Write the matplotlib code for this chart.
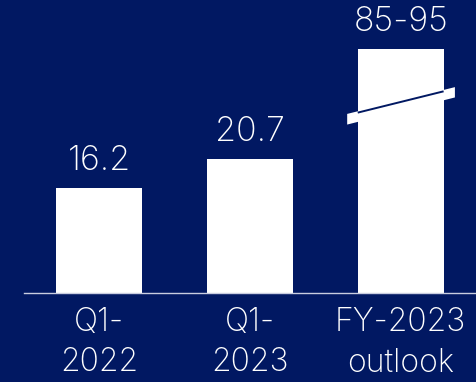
import matplotlib
matplotlib.use("Agg")
import matplotlib.pyplot as plt
from matplotlib.patches import Polygon
import numpy as np

categories = ["Q1-\n2022", "Q1-\n2023", "FY-2023\noutlook"]
values = [16.2, 20.7, 90.0]          # outlook drawn at midpoint of range
value_labels = ["16.2", "20.7", "85-95"]

NAVY = "#011862"
BREAK = 29.0      # axis break level
SQUEEZE = 0.144   # compression above the break


def fwd(v):
    v = np.asarray(v, dtype=float)
    return np.where(v <= BREAK, v, BREAK + (v - BREAK) * SQUEEZE)


def inv(v):
    v = np.asarray(v, dtype=float)
    return np.where(v <= BREAK, v, BREAK + (v - BREAK) / SQUEEZE)


plt.rcParams["font.family"] = ["Inter", "DejaVu Sans"]
plt.rcParams["font.weight"] = "light"

fig = plt.figure(figsize=(4.76, 3.82), dpi=100, facecolor=NAVY)
ax = fig.add_axes([24 / 476, 89 / 382, 452 / 476, 293 / 382], facecolor=NAVY)
ax.set_yscale("function", functions=(fwd, inv))

x = np.arange(len(categories))
ax.bar(x, values, width=0.57, color="white", zorder=2)

for xi, v, lab in zip(x, values, value_labels):
    ax.annotate(lab, (xi, v), xytext=(0, 8), textcoords="offset points",
                ha="center", va="bottom", color="white", fontsize=24.5)

# break marker on the outlook bar
y0 = float(inv(26.1))
y1 = float(inv(27.75))
y2 = float(inv(31.9))
y3 = float(inv(30.3))
band = Polygon([(2 - 0.355, y0), (2 - 0.355, y1), (2 + 0.36, y2), (2 + 0.36, y3)],
               closed=True, facecolor="white", edgecolor="none", zorder=3)
ax.add_patch(band)
ax.plot([2 - 0.285, 2 + 0.285], [float(inv(27.95)), float(inv(31.25))],
        color=NAVY, lw=1.4, zorder=4, solid_capstyle="butt")

ax.set_xlim(-0.5, 2.5)
ax.set_ylim(0, float(inv(45.4)))
ax.set_xticks(x)
ax.set_xticklabels(categories, color="white", fontsize=23, linespacing=1.4)
ax.tick_params(axis="x", length=0, pad=10)
ax.set_yticks([])
ax.yaxis.set_minor_locator(matplotlib.ticker.NullLocator())
for side in ["top", "left", "right"]:
    ax.spines[side].set_visible(False)
ax.spines["bottom"].set_color("#c9cde0")
ax.spines["bottom"].set_linewidth(1.0)

fig.savefig("out.png", dpi=100, facecolor=NAVY)
